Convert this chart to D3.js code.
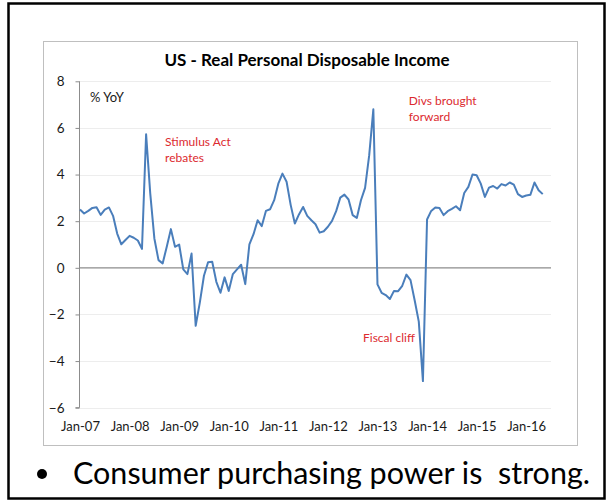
<!DOCTYPE html>
<html>
<head>
<meta charset="utf-8">
<script src="https://cdn.jsdelivr.net/npm/d3@7"></script>
<style>
  body { margin: 0; background: #fff; }
  svg text { font-family: Lato, "Open Sans", sans-serif; }
</style>
</head>
<body>
<div id="chart"></div>
<script>
// US real personal disposable income, % YoY, monthly Jan-07 .. May-16
const values2007 = [2.5, 2.33, 2.44, 2.57, 2.6, 2.27, 2.5, 2.59, 2.23, 1.47, 1.01, 1.19]
const values2008 = [1.37, 1.29, 1.17, 0.81, 5.73, 3.19, 1.26, 0.33, 0.19, 0.9, 1.66, 0.9]
const values2009 = [1.0, -0.07, -0.27, 0.61, -2.49, -1.49, -0.34, 0.24, 0.26, -0.6, -1.07, -0.41]
const values2010 = [-0.99, -0.27, -0.07, 0.13, -0.7, 1.01, 1.44, 2.04, 1.79, 2.44, 2.51, 2.9]
const values2011 = [3.61, 4.04, 3.69, 2.69, 1.9, 2.29, 2.61, 2.23, 2.04, 1.87, 1.51, 1.57]
const values2012 = [1.76, 2.01, 2.43, 3.01, 3.14, 2.93, 2.26, 2.14, 2.9, 3.43, 4.83, 6.8]
const values2013 = [-0.71, -1.07, -1.17, -1.34, -0.99, -1.0, -0.77, -0.29, -0.53, -1.39, -2.31, -4.86]
const values2014 = [2.07, 2.44, 2.59, 2.57, 2.26, 2.43, 2.53, 2.64, 2.47, 3.21, 3.47, 4.0]
const values2015 = [3.97, 3.61, 3.04, 3.44, 3.51, 3.4, 3.59, 3.53, 3.66, 3.57, 3.16, 3.04]
const values2016 = [3.1, 3.13, 3.66, 3.33, 3.16]

const values = [].concat(values2007, values2008, values2009, values2010, values2011,
                         values2012, values2013, values2014, values2015, values2016)

// one label per January
const xTickLabels = ["Jan-07", "Jan-08", "Jan-09", "Jan-10", "Jan-11",
                     "Jan-12", "Jan-13", "Jan-14", "Jan-15", "Jan-16"]
const yTicks = [-6, -4, -2, 0, 2, 4, 6, 8]

// notes placed in data units (month index, value)
const notes = [
    { lines: ["% YoY"], month: 2.4, value: 7.13, color: "#1a1a1a", size: 13 },
    { lines: ["Stimulus Act", "rebates"], month: 20.6, value: 5.24, color: "#dc2a2f", size: 12 },
    { lines: ["Divs brought", "forward"], month: 79.6, value: 7.0, color: "#dc2a2f", size: 12 },
    { lines: ["Fiscal cliff"], month: 68.5, value: -3.17, color: "#dc2a2f", size: 12 }
]

const width = 610,
      height = 502

let svg = d3.select("#chart")
    .append("svg")
    .attr("width", width)
    .attr("height", height)

// slide frame
svg.append("rect")
    .attr("x", 8.5).attr("y", 3.5)
    .attr("width", 596).attr("height", 495)
    .attr("fill", "none")
    .attr("stroke", "#000")
    .attr("stroke-width", 2.5)

// chart box
svg.append("rect")
    .attr("x", 43.5).attr("y", 41.5)
    .attr("width", 534).attr("height", 404)
    .attr("fill", "#fff")
    .attr("stroke", "#bfbfbf")

// scales: x is month index from Jan-07
let x = d3.scaleLinear()
    .domain([0, 114])
    .range([80, 551])
let y = d3.scaleLinear()
    .domain([-6, 8])
    .range([407.7, 81.3])

// horizontal gridlines
svg.append("g")
    .selectAll("line")
    .data(yTicks.filter(d => d !== 0))
    .join("line")
    .attr("x1", x(0)).attr("x2", x.range()[1])
    .attr("y1", d => Math.round(y(d)) + 0.5)
    .attr("y2", d => Math.round(y(d)) + 0.5)
    .attr("stroke", "#ededed")

// y axis
let yAxis = svg.append("g")
    .attr("transform", `translate(${x(0) - 0.5},0)`)
    .call(d3.axisLeft(y).tickValues(yTicks).tickSize(4).tickPadding(11))
yAxis.selectAll("path, line").attr("stroke", "#8c8c8c")
yAxis.selectAll("text")
    .attr("fill", "#1a1a1a")
    .style("font-size", "13.5px")
yAxis.select(".domain").attr("d", `M-4,${y(-6)}H0V${y(8)}`)

// zero line (category axis crosses here)
svg.append("line")
    .attr("x1", x(0)).attr("x2", x.range()[1])
    .attr("y1", y(0)).attr("y2", y(0))
    .attr("stroke", "#8c8c8c")
    .attr("stroke-width", 1.3)

// x axis labels, low position
let xAxis = svg.append("g")
    .attr("transform", "translate(0,414)")
    .call(d3.axisBottom(x)
        .tickValues(xTickLabels.map((d, i) => i * 12))
        .tickFormat((d, i) => xTickLabels[i])
        .tickSize(0)
        .tickPadding(8))
xAxis.select(".domain").remove()
xAxis.selectAll("text")
    .attr("fill", "#1a1a1a")
    .style("font-size", "13px")

// series
let line = d3.line()
    .x((d, i) => x(i))
    .y(d => y(d))

svg.append("path")
    .datum(values)
    .attr("d", line)
    .attr("fill", "none")
    .attr("stroke", "#4a7ebb")
    .attr("stroke-width", 2)
    .attr("stroke-linejoin", "round")

// notes
let note = svg.selectAll(".note")
    .data(notes)
    .join("text")
    .attr("class", "note")
    .attr("x", d => x(d.month))
    .attr("y", d => y(d.value))
    .attr("fill", d => d.color)
    .style("font-size", d => d.size + "px")
note.selectAll("tspan")
    .data(d => d.lines.map(t => ({ t, x: x(d.month) })))
    .join("tspan")
    .attr("x", d => d.x)
    .attr("dy", (d, i) => i === 0 ? 0 : 16)
    .text(d => d.t)

// title
svg.append("text")
    .attr("x", 307)
    .attr("y", 66)
    .attr("text-anchor", "middle")
    .style("font-size", "17px")
    .style("font-weight", "bold")
    .attr("fill", "#000")
    .text("US - Real Personal Disposable Income")

// bullet line below the chart
svg.append("circle")
    .attr("cx", 42).attr("cy", 474)
    .attr("r", 5)
    .attr("fill", "#000")
svg.append("text")
    .attr("x", 73)
    .attr("y", 484)
    .style("font-size", "30.5px")
    .style("white-space", "pre")
    .attr("fill", "#000")
    .text("Consumer purchasing power is  strong.")
</script>
</body>
</html>
